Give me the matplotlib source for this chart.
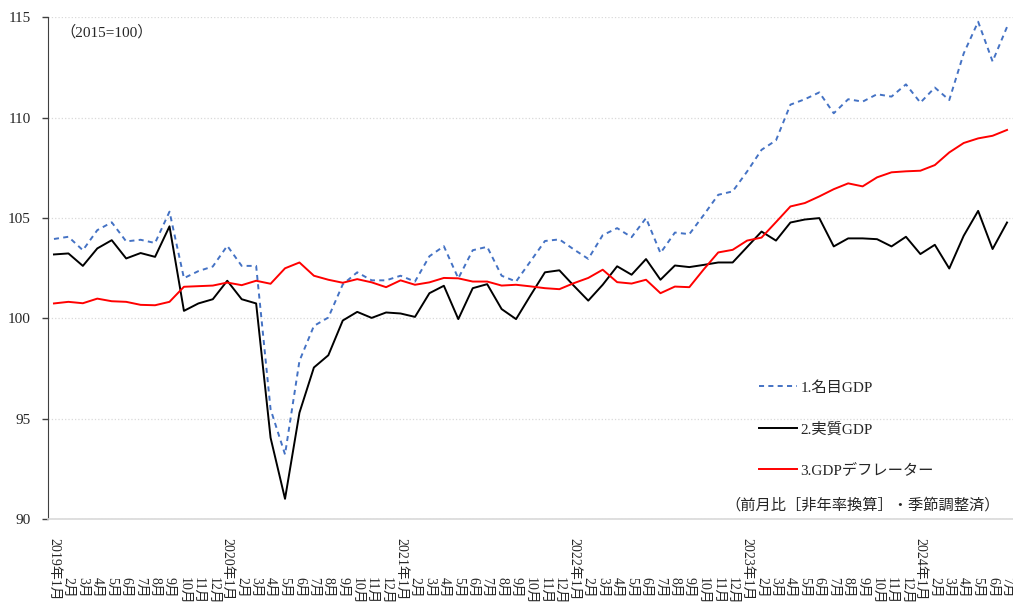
import matplotlib
matplotlib.use("Agg")
import matplotlib.pyplot as plt

# monthly categories, 2019/1 .. 2024/7
years = [2019, 2020, 2021, 2022, 2023, 2024]
months = [f"{y}年1月" if m == 1 else f"{m}月" for y in years for m in range(1, 13)][:67]

nominal = [103.96, 104.07, 103.40, 104.40, 104.79, 103.84, 103.92, 103.76, 105.32, 102.01,
           102.36, 102.59, 103.62, 102.62, 102.62, 95.48, 93.23, 97.89, 99.63, 100.05,
           101.70, 102.30, 101.90, 101.90, 102.13, 101.84, 103.10, 103.60, 102.00, 103.40,
           103.57, 102.13, 101.84, 102.85, 103.86, 103.94, 103.44, 102.97, 104.15, 104.50,
           104.05, 105.00, 103.26, 104.28, 104.20, 105.16, 106.16, 106.33, 107.32, 108.40,
           108.87, 110.65, 110.92, 111.26, 110.22, 110.92, 110.80, 111.17, 111.05, 111.66,
           110.75, 111.50, 110.88, 113.20, 114.78, 112.80, 114.52]
real = [103.19, 103.24, 102.62, 103.49, 103.90, 102.99, 103.26, 103.07, 104.59, 100.38,
        100.75, 100.96, 101.88, 100.96, 100.75, 94.06, 91.02, 95.31, 97.56, 98.17,
        99.90, 100.33, 100.03, 100.30, 100.25, 100.08, 101.26, 101.63, 99.97, 101.51,
        101.71, 100.47, 99.97, 101.15, 102.30, 102.40, 101.63, 100.89, 101.68, 102.60,
        102.18, 102.96, 101.93, 102.64, 102.56, 102.67, 102.79, 102.79, 103.56, 104.33,
        103.88, 104.78, 104.93, 105.00, 103.59, 103.99, 103.99, 103.95, 103.59, 104.07,
        103.21, 103.67, 102.49, 104.12, 105.36, 103.46, 104.78]
deflator = [100.75, 100.83, 100.76, 100.99, 100.86, 100.83, 100.68, 100.66, 100.83, 101.58,
            101.61, 101.64, 101.79, 101.66, 101.88, 101.73, 102.50, 102.79, 102.13, 101.93,
            101.78, 101.96, 101.80, 101.56, 101.90, 101.68, 101.80, 102.02, 102.00, 101.84,
            101.84, 101.64, 101.68, 101.60, 101.51, 101.46, 101.76, 102.02, 102.43, 101.81,
            101.74, 101.93, 101.26, 101.59, 101.56, 102.45, 103.29, 103.42, 103.88, 104.03,
            104.80, 105.58, 105.75, 106.08, 106.44, 106.73, 106.58, 107.03, 107.28, 107.33,
            107.36, 107.64, 108.27, 108.74, 108.97, 109.10, 109.39]
labels = ["1.名目GDP", "2.実質GDP", "3.GDPデフレーター"]
yticks = [90, 95, 100, 105, 110, 115]

plt.rcParams["font.family"] = ["Liberation Serif", "Noto Sans CJK JP"]

W, H = 1013, 608
fig = plt.figure(figsize=(W / 100, H / 100), dpi=100)
ax = fig.add_axes([48.2 / W, 1 - 519.3 / H, 964.6 / W, 502.0 / H])

x = list(range(len(months)))
ax.plot(x, nominal, color="#4472C4", lw=1.4, linestyle=(0, (2.6, 2.2)), label=labels[0])
ax.plot(x, real, color="black", lw=1.4, label=labels[1])
ax.plot(x, deflator, color="#FF0000", lw=1.4, label=labels[2])

ax.set_xlim(-0.4, 66.4)
ax.set_ylim(90, 115)
ax.set_yticks(yticks)
ax.yaxis.grid(True, color="#D9D9D9", linestyle=":", lw=0.9)
ax.set_axisbelow(True)

for side in ["top", "right"]:
    ax.spines[side].set_visible(False)
ax.spines["left"].set_color("#404040")
ax.spines["bottom"].set_color("#D9D9D9")
ax.spines["bottom"].set_linewidth(1.2)

ax.tick_params(axis="y", direction="out", length=4, width=1, color="#404040",
               labelsize=11, labelcolor="#262626", pad=8.5)
ax.set_xticks(x)
ax.set_xticklabels(months, rotation=270, rotation_mode="anchor", va="center", fontsize=10,
                   color="#262626")
ax.tick_params(axis="x", length=0)
for tick, lab in zip(ax.xaxis.get_major_ticks(), months):
    if "年" in lab:
        tick.set_pad(58.8)
        tick.label1.set_ha("right")
    else:
        tick.set_pad(41.5)
        tick.label1.set_ha("left")

ax.legend(loc="upper left", bbox_to_anchor=(759 / W, 1 - 381 / H), bbox_transform=fig.transFigure,
          frameon=False, handlelength=2.5, handletextpad=0.2, labelspacing=1.78,
          borderpad=0, borderaxespad=0, fontsize=11, labelcolor="#262626")

fig.text(60 / W, 1 - 32 / H, "（2015=100）", ha="left", va="center", fontsize=11, color="#262626")
fig.text(1000 / W, 1 - 505 / H, "（前月比［非年率換算］・季節調整済）", ha="right", va="center",
         fontsize=11, color="#262626")

fig.savefig("out.png", dpi=100)
